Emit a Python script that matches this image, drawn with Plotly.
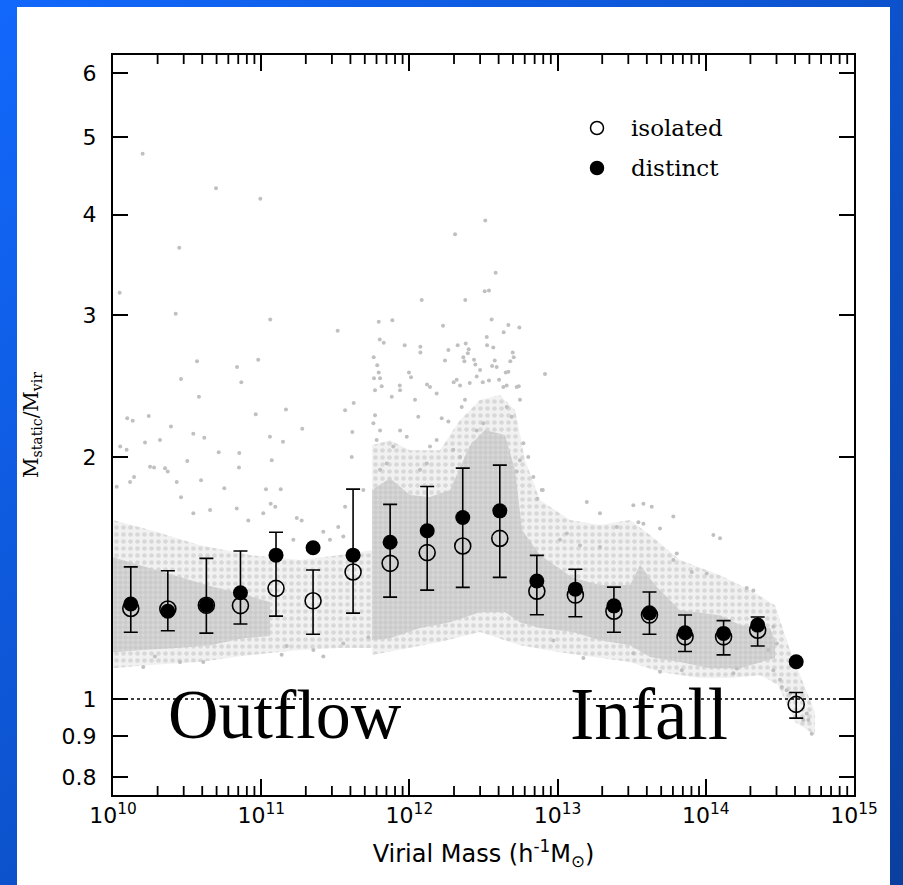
import base64
import math
import plotly.graph_objects as go

# ---------------- data ----------------
# bin centres, log10 of virial mass
bin_logm = [10.12, 10.37, 10.63, 10.86, 11.10, 11.35, 11.62, 11.87, 12.12, 12.36,
            12.61, 12.86, 13.12, 13.38, 13.62, 13.86, 14.12, 14.35, 14.61]
iso_ratio = [1.296, 1.294, 1.308, 1.307, 1.373, 1.325, 1.439, 1.475, 1.521, 1.550,
             1.584, 1.362, 1.347, 1.286, 1.272, 1.195, 1.195, 1.218, 0.985]
dist_ratio = [1.313, 1.286, 1.308, 1.356, 1.510, 1.542, 1.510, 1.567, 1.619, 1.682,
              1.714, 1.402, 1.370, 1.306, 1.280, 1.209, 1.207, 1.236, 1.113]
iso_hi = [1.460, 1.444, 1.496, 1.528, 1.612, 1.447, 1.824, 1.746, 1.838, 1.937,
          1.954, 1.509, 1.450, 1.378, 1.359, 1.272, 1.252, 1.265, 1.019]
iso_lo = [1.211, 1.216, 1.208, 1.240, 1.268, 1.204, 1.279, 1.339, 1.366, 1.377,
          1.417, 1.273, 1.266, 1.211, 1.204, 1.146, 1.135, 1.164, 0.947]

# envelope of the dense halo cloud (log10 M, log10 ratio)
core1_up_m = [10.000, 10.202, 10.432, 10.655, 10.877, 11.059]
core1_up_r = [0.1765, 0.1653, 0.1529, 0.1405, 0.1305, 0.1206]
core1_lo_m = [10.000, 10.202, 10.432, 10.655, 10.877, 11.059]
core1_lo_r = [0.0584, 0.0609, 0.0634, 0.0671, 0.0758, 0.0783]

outer1_up_m = [10.000, 10.250, 10.587, 10.924, 11.262, 11.532, 11.748]
outer1_up_r = [0.2225, 0.2101, 0.1914, 0.1790, 0.1728, 0.1790, 0.1852]
outer1_lo_m = [10.000, 10.250, 10.587, 10.924, 11.262, 11.532, 11.748]
outer1_lo_r = [0.0385, 0.0423, 0.0460, 0.0547, 0.0609, 0.0634, 0.0634]

core2_up_m = [11.748, 11.869, 12.004, 12.139, 12.274, 12.409, 12.510, 12.645, 12.713, 12.760,
              12.881, 13.104, 13.286, 13.489, 13.556, 13.657, 13.826, 14.096, 14.231, 14.433, 14.467]
core2_up_r = [0.2598, 0.2747, 0.2536, 0.2511, 0.2598, 0.3157, 0.3344, 0.3282, 0.2846, 0.2101,
              0.1790, 0.1504, 0.1417, 0.1417, 0.1666, 0.1417, 0.1106, 0.1044, 0.0920, 0.0883, 0.0733]
core2_lo_m = [11.748, 11.869, 12.072, 12.274, 12.476, 12.645, 12.746, 12.881, 13.104, 13.286,
              13.489, 13.624, 13.826, 14.029, 14.231, 14.467]
core2_lo_r = [0.0733, 0.0758, 0.0883, 0.0957, 0.1081, 0.1081, 0.0957, 0.0883, 0.0833, 0.0733,
              0.0671, 0.0522, 0.0460, 0.0385, 0.0385, 0.0510]

outer2_up_m = [11.748, 11.869, 12.004, 12.206, 12.341, 12.476, 12.611, 12.713, 12.780, 12.881,
               13.084, 13.286, 13.489, 13.624, 13.826, 14.096, 14.298, 14.467, 14.568, 14.737]
outer2_up_r = [0.3157, 0.3219, 0.3095, 0.3095, 0.3468, 0.3717, 0.3779, 0.3592, 0.2971, 0.2474,
               0.2225, 0.2163, 0.2225, 0.2039, 0.1728, 0.1541, 0.1355, 0.1168, 0.0609, -0.0162]
outer2_lo_m = [11.748, 11.937, 12.206, 12.476, 12.746, 13.016, 13.286, 13.489, 13.691, 13.961,
               14.164, 14.366, 14.487, 14.602, 14.737]
outer2_lo_r = [0.0547, 0.0609, 0.0709, 0.0833, 0.0671, 0.0584, 0.0510, 0.0460, 0.0336, 0.0261,
               0.0261, 0.0298, 0.0174, -0.0286, -0.0447]

# individual scattered haloes (log10 M, log10 ratio)
sparse_m = [10.200, 10.695, 10.994, 10.447, 10.045, 10.423, 11.061, 11.516, 10.567, 10.980,
            10.837, 10.459, 10.866, 12.512, 12.308, 12.582, 12.508, 12.537, 12.083, 12.377,
            12.555, 12.668, 12.742, 12.636, 12.227, 11.793, 11.885, 12.522, 11.800, 11.827,
            11.968, 12.074, 12.074, 12.326, 12.380, 12.524, 12.566, 12.263, 12.400, 12.394,
            12.697, 11.759, 12.240, 12.364, 12.371, 12.436, 12.445, 12.576, 12.558, 12.681,
            12.704, 11.783, 11.793, 11.997, 12.011, 11.761, 11.802, 12.650, 12.668, 12.915,
            12.299, 12.407, 12.495, 12.537, 12.605, 11.935, 12.119, 11.813, 12.656, 12.738,
            11.768, 11.881, 11.937, 12.139, 12.184, 12.038, 12.060, 12.319, 12.342, 12.375,
            12.353, 12.218, 12.263, 12.184, 12.139, 11.757, 11.802, 11.779, 11.937, 11.982,
            11.891, 12.454, 12.477, 12.589, 12.634, 12.724, 12.746, 12.657, 12.690, 12.499,
            12.454, 12.769, 12.802, 12.836, 12.893, 12.746, 12.724, 12.296, 12.342, 12.117,
            12.072, 11.847, 11.802,
            10.580, 10.963, 11.167, 10.241, 10.096, 10.133, 10.391, 11.277, 11.059, 11.147,
            11.624, 11.566, 11.615, 11.768, 10.049, 10.092, 10.216, 10.317, 10.542, 10.616,
            10.713, 10.852, 10.850, 10.501, 10.250, 10.277, 10.142, 10.115, 10.025, 10.351,
            10.369, 10.430, 10.459, 10.594, 10.751, 11.032, 11.132, 11.071, 11.064, 11.095,
            11.014, 10.913, 10.835, 10.655, 10.542, 11.240, 11.273, 11.566, 11.520, 11.611,
            11.689, 11.554, 11.419, 11.464, 11.217,
            10.204, 10.283, 10.452, 10.609, 11.138, 11.172, 11.419, 11.554, 11.723, 11.352,
            12.900, 12.863, 13.197, 13.511, 13.579, 13.635, 13.781, 13.286, 13.545, 13.579,
            13.691, 14.051, 14.096, 13.399, 13.016, 13.062, 13.151, 13.286, 13.781, 13.804,
            13.905, 14.006, 14.276, 14.321, 14.456, 14.479, 14.422, 14.501, 14.546, 14.658,
            14.715, 14.681, 12.971, 13.174, 13.691, 13.838, 14.186, 14.209, 13.511, 14.513,
            14.569, 14.692, 14.456]
sparse_r = [0.678, 0.635, 0.622, 0.561, 0.505, 0.479, 0.472, 0.458, 0.420, 0.422,
            0.413, 0.398, 0.394, 0.595, 0.578, 0.530, 0.507, 0.508, 0.496, 0.496,
            0.472, 0.465, 0.462, 0.456, 0.464, 0.469, 0.471, 0.450, 0.447, 0.443,
            0.440, 0.438, 0.431, 0.440, 0.442, 0.440, 0.437, 0.434, 0.435, 0.430,
            0.431, 0.425, 0.421, 0.425, 0.420, 0.422, 0.416, 0.421, 0.414, 0.420,
            0.425, 0.415, 0.406, 0.406, 0.400, 0.399, 0.399, 0.406, 0.407, 0.404,
            0.394, 0.393, 0.394, 0.396, 0.397, 0.390, 0.391, 0.389, 0.390, 0.389,
            0.384, 0.376, 0.384, 0.388, 0.380, 0.372, 0.351, 0.397, 0.390, 0.372,
            0.363, 0.349, 0.345, 0.322, 0.314, 0.343, 0.334, 0.322, 0.334, 0.326,
            0.314, 0.401, 0.409, 0.413, 0.388, 0.388, 0.372, 0.363, 0.351, 0.343,
            0.334, 0.318, 0.301, 0.276, 0.260, 0.297, 0.283, 0.310, 0.301, 0.293,
            0.285, 0.293, 0.285,
            0.376, 0.354, 0.360, 0.352, 0.349, 0.346, 0.339, 0.336, 0.326, 0.320,
            0.368, 0.359, 0.332, 0.353, 0.314, 0.310, 0.319, 0.322, 0.330, 0.325,
            0.307, 0.306, 0.288, 0.296, 0.289, 0.288, 0.276, 0.270, 0.264, 0.287,
            0.283, 0.270, 0.251, 0.272, 0.262, 0.261, 0.261, 0.297, 0.243, 0.239,
            0.231, 0.222, 0.237, 0.235, 0.231, 0.225, 0.222, 0.239, 0.214, 0.301,
            0.260, 0.202, 0.208, 0.198, 0.198,
            0.040, 0.053, 0.046, 0.046, 0.055, 0.066, 0.053, 0.069, 0.077, 0.061,
            0.260, 0.249, 0.245, 0.241, 0.243, 0.239, 0.227, 0.231, 0.220, 0.218,
            0.212, 0.204, 0.200, 0.214, 0.198, 0.206, 0.191, 0.189, 0.173, 0.181,
            0.158, 0.156, 0.138, 0.135, 0.090, 0.069, 0.061, 0.024, 0.011, -0.026,
            -0.043, -0.018, 0.073, 0.051, 0.034, 0.036, 0.032, 0.038, 0.057, 0.015,
            0.007, -0.026, 0.036]

x_tickvals = [1e10, 1e11, 1e12, 1e13, 1e14, 1e15]
x_ticktext = ["10<sup>10</sup>", "10<sup>11</sup>", "10<sup>12</sup>",
              "10<sup>13</sup>", "10<sup>14</sup>", "10<sup>15</sup>"]
y_tickvals = [0.8, 0.9, 1, 2, 3, 4, 5, 6]
y_ticktext = ["0.8", "0.9", "1", "2", "3", "4", "5", "6"]

# ---------------- figure ----------------
def mass(lm):
    return [10 ** v for v in lm]

def ratio(lr):
    return [10 ** v for v in lr]

CLOUD_DOT = "#c0c0c0"
fig = go.Figure()

def poly(up_m, up_r, lo_m, lo_r, bg, size, solidity):
    xs = mass(up_m) + mass(lo_m[::-1])
    ys = ratio(up_r) + ratio(lo_r[::-1])
    fig.add_trace(go.Scatter(x=xs, y=ys, fill="toself", mode="lines",
                             line=dict(width=0), fillcolor=bg,
                             fillpattern=dict(shape=".", fgcolor=CLOUD_DOT, bgcolor=bg,
                                              size=size, solidity=solidity),
                             hoverinfo="skip", showlegend=False))

poly(outer1_up_m, outer1_up_r, outer1_lo_m, outer1_lo_r, "#f1f1f1", 7, 0.35)
poly(outer2_up_m, outer2_up_r, outer2_lo_m, outer2_lo_r, "#f1f1f1", 7, 0.35)
poly(core1_up_m, core1_up_r, core1_lo_m, core1_lo_r, "#d7d7d7", 5, 0.6)
poly(core2_up_m, core2_up_r, core2_lo_m, core2_lo_r, "#d7d7d7", 5, 0.6)

fig.add_trace(go.Scatter(x=mass(sparse_m), y=ratio(sparse_r), mode="markers",
                         marker=dict(size=4, color=CLOUD_DOT, line=dict(width=0)),
                         hoverinfo="skip", showlegend=False))

fig.add_hline(y=1, line=dict(color="black", dash="dot", width=1.5), layer="above")

err_plus = [h - v for h, v in zip(iso_hi, iso_ratio)]
err_minus = [v - l for v, l in zip(iso_ratio, iso_lo)]
fig.add_trace(go.Scatter(
    x=mass(bin_logm), y=iso_ratio, mode="markers", name="isolated",
    marker=dict(symbol="circle-open", size=16, color="black", line=dict(width=1.6)),
    error_y=dict(type="data", array=err_plus, arrayminus=err_minus, symmetric=False,
                 color="black", thickness=1.6, width=7),
    showlegend=False))
fig.add_trace(go.Scatter(
    x=mass(bin_logm), y=dist_ratio, mode="markers", name="distinct",
    marker=dict(symbol="circle", size=15, color="black"),
    showlegend=False))

# background frame
W, H = 903, 885
L, R, T, B = 113, 49, 55, 90
pw, ph = W - L - R, H - T - B
svg = (f'<svg xmlns="http://www.w3.org/2000/svg" width="{W}" height="{H}">'
       '<defs><linearGradient id="g" x1="0" y1="0" x2="1" y2="1">'
       '<stop offset="0" stop-color="#1268fc"/><stop offset="0.5" stop-color="#0c52cc"/>'
       '<stop offset="1" stop-color="#0a3f9e"/></linearGradient></defs>'
       f'<rect width="{W}" height="{H}" fill="url(#g)"/>'
       f'<rect x="17" y="7" width="873" height="{H}" fill="white"/></svg>')
src = "data:image/svg+xml;base64," + base64.b64encode(svg.encode()).decode()
fig.add_layout_image(dict(source=src, xref="paper", yref="paper",
                          x=-L / pw, y=1 + T / ph, sizex=W / pw, sizey=H / ph,
                          xanchor="left", yanchor="top", sizing="stretch", layer="below"))

def px_x(p):
    return (p - L) / pw

def px_y(p):
    return (H - B - p) / ph

# minor ticks on bottom and top axes (axis decoration, placed in paper units)
minor_x = [k * 10 ** d for d in range(10, 15) for k in range(2, 10)]
for mv in minor_x:
    fx = (math.log10(mv) - 10) / 5
    for y0, y1 in [(1, 1 - 9 / ph), (0, 9 / ph)]:
        fig.add_shape(type="line", xref="paper", yref="paper", x0=fx, x1=fx,
                      y0=y0, y1=y1, line=dict(color="black", width=1.8), layer="above")

# legend (manual)
for yy, filled in [(128, False), (168, True)]:
    fig.add_shape(type="circle", xref="paper", yref="paper",
                  xsizemode="pixel", ysizemode="pixel",
                  xanchor=px_x(597), yanchor=px_y(yy), x0=-6.5, x1=6.5, y0=-6.5, y1=6.5,
                  line=dict(color="black", width=1.5),
                  fillcolor="black" if filled else "white")
for txt, yy in [("isolated", 128), ("distinct", 168)]:
    fig.add_annotation(text=txt, xref="paper", yref="paper", x=px_x(629), y=px_y(yy),
                       xanchor="left", yanchor="middle", showarrow=False,
                       font=dict(family="DejaVu Serif", size=23, color="black"))

fig.add_annotation(text="Outflow", xref="paper", yref="paper", x=px_x(166), y=px_y(714),
                   xanchor="left", yanchor="middle", showarrow=False,
                   font=dict(family="Liberation Serif", size=70, color="black"))
fig.add_annotation(text="Infall", xref="paper", yref="paper", x=px_x(568), y=px_y(714),
                   xanchor="left", yanchor="middle", showarrow=False,
                   font=dict(family="Liberation Serif", size=73, color="black"))

fig.update_layout(
    xaxis=dict(type="log", range=[10, 15], tickvals=x_tickvals, ticktext=x_ticktext,
               ticks="inside", ticklen=16, tickwidth=2, tickcolor="black",
               showline=True, linecolor="black", linewidth=2, mirror="ticks",
               showgrid=False, zeroline=False,
               tickfont=dict(family="DejaVu Sans", size=22, color="black"),
               title=dict(text="Virial Mass (h<sup>-1</sup>M<sub>⊙</sub>)",
                          font=dict(family="DejaVu Sans", size=24, color="black"),
                          standoff=18)),
    yaxis=dict(type="log", range=[-0.1192, 0.8007], tickvals=y_tickvals, ticktext=y_ticktext,
               ticks="inside", ticklen=15, tickwidth=2, tickcolor="black",
               showline=True, linecolor="black", linewidth=2, mirror="ticks",
               showgrid=False, zeroline=False, ticklabelstandoff=10,
               tickfont=dict(family="DejaVu Sans", size=22, color="black"),
               title=dict(text="M<sub>static</sub>/M<sub>vir</sub>",
                          font=dict(family="DejaVu Serif", size=20, color="black"),
                          standoff=18)),
    width=W, height=H, margin=dict(l=L, r=R, t=T, b=B),
    paper_bgcolor="white", plot_bgcolor="rgba(0,0,0,0)",
    showlegend=False)

fig.write_html("out.html")
